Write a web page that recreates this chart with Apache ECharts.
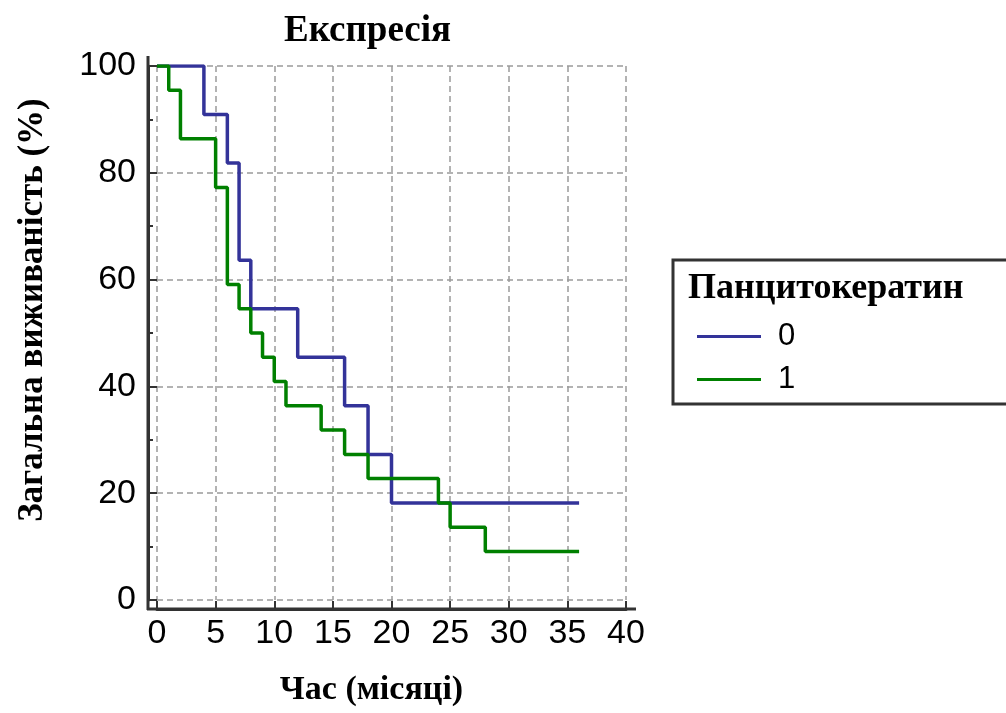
<!DOCTYPE html>
<html>
<head>
<meta charset="utf-8">
<script src="https://cdn.jsdelivr.net/npm/echarts@6/dist/echarts.min.js"></script>
<style>
html,body{margin:0;padding:0;background:#fff;}
#chart{width:1006px;height:713px;}
</style>
</head>
<body>
<div id="chart"></div>
<script>
// ---- data ----
var chartTitle = 'Експресія';
var xAxisName = 'Час (місяці)';
var yAxisName = 'Загальна виживаність (%)';
var legendTitle = 'Панцитокератин';
var groupNames = ['0', '1'];

var times0 = [0, 4, 6, 7, 8, 12, 16, 18, 20, 36];
var surv0  = [100, 90.91, 81.82, 63.64, 54.55, 45.45, 36.36, 27.27, 18.18, 18.18];

var times1 = [0, 1, 2, 5, 6, 7, 8, 9, 10, 11, 14, 16, 18, 24, 25, 28, 36];
var surv1  = [100, 95.45, 86.36, 77.27, 59.09, 54.55, 50, 45.45, 40.91, 36.36, 31.82, 27.27, 22.73, 18.18, 13.64, 9.09, 9.09];

var xTicks = [0, 5, 10, 15, 20, 25, 30, 35, 40];
var yTicks = [0, 20, 40, 60, 80, 100];

function pairs(t, s) { return t.map(function (v, i) { return [v, s[i]]; }); }

var serif = 'Liberation Serif';
var sans = 'Liberation Sans';
var colors = ['#333399', '#008000'];

var chart = echarts.init(document.getElementById('chart'), null, {renderer: 'canvas'});
chart.setOption({
  backgroundColor: '#ffffff',
  animation: false,
  title: [
    {text: chartTitle, left: 279, top: 8,
     textStyle: {fontFamily: serif, fontWeight: 'bold', fontSize: 37, color: '#000'}},
    {text: legendTitle, left: 683, top: 266,
     textStyle: {fontFamily: serif, fontWeight: 'bold', fontSize: 36, color: '#000'}}
  ],
  grid: {left: 157, right: 380, top: 66, bottom: 113, containLabel: false},
  xAxis: {
    type: 'value', min: xTicks[0], max: xTicks[xTicks.length - 1], interval: 5,
    offset: 9,
    name: xAxisName, nameLocation: 'middle', nameGap: 64,
    nameTextStyle: {fontFamily: serif, fontWeight: 'bold', fontSize: 34, color: '#000', padding: [0, 40, 0, 0]},
    axisLine: {show: true, onZero: false, lineStyle: {color: '#333', width: 3}},
    axisTick: {show: true, inside: true, length: 8, lineStyle: {color: '#333', width: 2}},
    axisLabel: {fontFamily: sans, fontSize: 34, color: '#000', margin: 8},
    splitLine: {show: true, lineStyle: {color: '#9a9a9a', width: 1.5, type: [6, 4]}}
  },
  yAxis: {
    type: 'value', min: yTicks[0], max: yTicks[yTicks.length - 1], interval: 20,
    offset: 9,
    name: yAxisName, nameLocation: 'middle', nameGap: 98,
    nameTextStyle: {fontFamily: serif, fontWeight: 'bold', fontSize: 35, color: '#000', padding: [0, 0, 0, 46]},
    axisLine: {show: true, onZero: false, lineStyle: {color: '#333', width: 3}},
    axisTick: {show: true, inside: true, length: 9, lineStyle: {color: '#333', width: 2}},
    minorTick: {show: true, splitNumber: 2, length: 5, lineStyle: {color: '#333', width: 2}},
    axisLabel: {fontFamily: sans, fontSize: 34, color: '#000', margin: 12},
    splitLine: {show: true, lineStyle: {color: '#9a9a9a', width: 1.5, type: [6, 4]}}
  },
  legend: {
    orient: 'vertical', left: 692, top: 316,
    itemWidth: 64, itemHeight: 3, itemGap: 12,
    icon: 'rect',
    textStyle: {fontFamily: sans, fontSize: 31, color: '#000', padding: [0, 0, 0, 12]},
    data: groupNames
  },
  graphic: [
    {type: 'rect', shape: {x: 673, y: 260, width: 340, height: 144},
     style: {fill: 'none', stroke: '#333', lineWidth: 3}, z: 1},
    {type: 'line', shape: {x1: 148, y1: 56, x2: 148, y2: 610},
     style: {stroke: '#333', lineWidth: 3}, z: 10},
    {type: 'line', shape: {x1: 147, y1: 609, x2: 636, y2: 609},
     style: {stroke: '#333', lineWidth: 3}, z: 10}
  ],
  series: [
    {name: groupNames[0], type: 'line', step: 'end', showSymbol: false,
     data: pairs(times0, surv0), color: colors[0],
     lineStyle: {color: colors[0], width: 3.5}, z: 3},
    {name: groupNames[1], type: 'line', step: 'end', showSymbol: false,
     data: pairs(times1, surv1), color: colors[1],
     lineStyle: {color: colors[1], width: 3.5}, z: 4}
  ]
});
</script>
</body>
</html>
